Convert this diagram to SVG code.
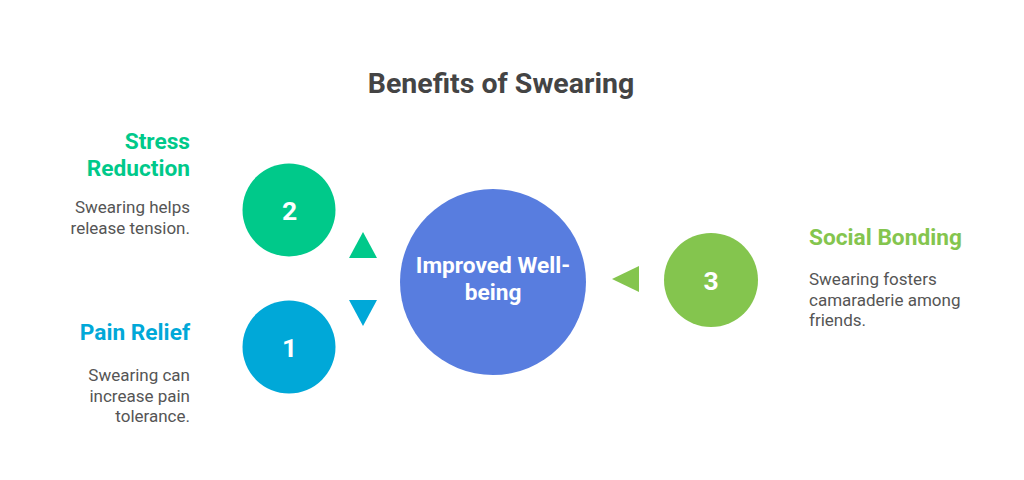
<svg xmlns="http://www.w3.org/2000/svg" width="1024" height="480" viewBox="0 0 1024 480">
<style>
.title{font-family:Roboto,"Liberation Sans",sans-serif;font-weight:700;font-size:28.5px;fill:#444444}
.head{font-family:Roboto,"Liberation Sans",sans-serif;font-weight:700;font-size:22.7px}
.desc{font-family:Roboto,"Liberation Sans",sans-serif;font-size:17px;fill:#555555}
.num{font-family:Roboto,"Liberation Sans",sans-serif;font-weight:700;font-size:26.5px;fill:#ffffff}
.center{font-family:Roboto,"Liberation Sans",sans-serif;font-weight:700;font-size:22.7px;fill:#ffffff}
</style>
<rect width="1024" height="480" fill="#ffffff"/>
<text class="title" x="501" y="93" text-anchor="middle">Benefits of Swearing</text>
<g id="connectors">
<polygon points="363,232 349,258 377,258" fill="#00c98a"/>
<polygon points="363,326 349,300 377,300" fill="#00a8d8"/>
<polygon points="612,279 639,266 639,292" fill="#84c54e"/>
</g>
<g id="center">
<circle cx="493" cy="282" r="93" fill="#587ddf"/>
<text class="center" x="493" y="273" text-anchor="middle">Improved Well-</text>
<text class="center" x="493" y="300" text-anchor="middle">being</text>
</g>
<g id="stress">
<circle cx="289" cy="210" r="46.5" fill="#00c98a"/>
<text class="num" x="289.5" y="220" text-anchor="middle">2</text>
<text class="head" x="190" y="149" text-anchor="end" fill="#00c98a">Stress</text>
<text class="head" x="190" y="176" text-anchor="end" fill="#00c98a">Reduction</text>
<text class="desc" x="190" y="213" text-anchor="end">Swearing helps</text>
<text class="desc" x="190" y="234" text-anchor="end">release tension.</text>
</g>
<g id="pain">
<circle cx="289" cy="347" r="46.5" fill="#00a8d8"/>
<text class="num" x="289.5" y="357" text-anchor="middle">1</text>
<text class="head" x="190" y="340" text-anchor="end" fill="#00a8d8">Pain Relief</text>
<text class="desc" x="190" y="381" text-anchor="end">Swearing can</text>
<text class="desc" x="190" y="402" text-anchor="end">increase pain</text>
<text class="desc" x="190" y="422" text-anchor="end">tolerance.</text>
</g>
<g id="social">
<circle cx="711" cy="280" r="47" fill="#84c54e"/>
<text class="num" x="711" y="290" text-anchor="middle">3</text>
<text class="head" x="809" y="245" fill="#84c54e">Social Bonding</text>
<text class="desc" x="809" y="285">Swearing fosters</text>
<text class="desc" x="809" y="306">camaraderie among</text>
<text class="desc" x="809" y="326">friends.</text>
</g>
</svg>
